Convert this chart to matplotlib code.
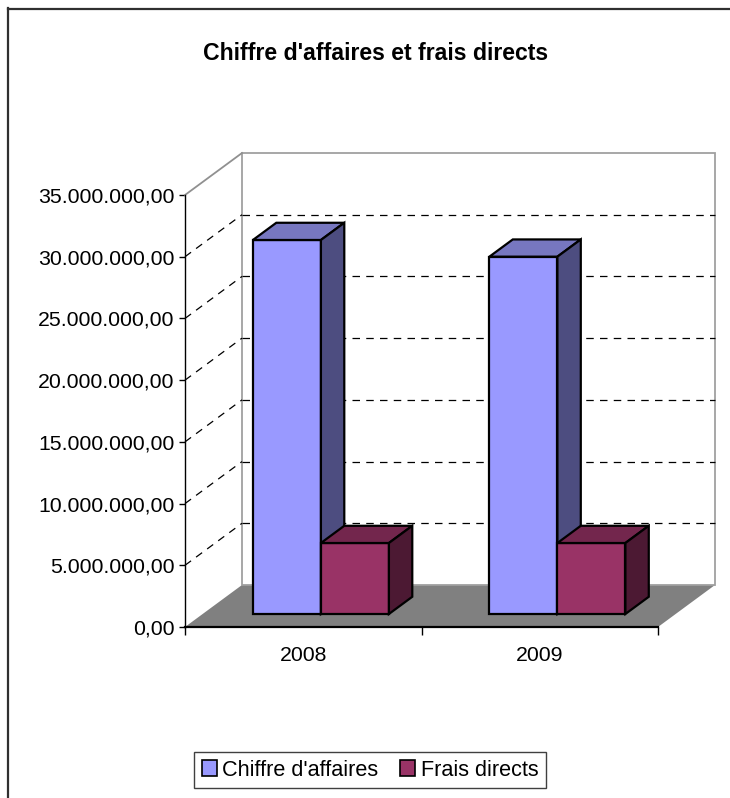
import matplotlib
matplotlib.use('Agg')
import matplotlib.pyplot as plt
from matplotlib.patches import Polygon, Patch
from matplotlib.lines import Line2D
from matplotlib.ticker import FuncFormatter, MultipleLocator

plt.rcParams['font.family'] = ['Liberation Sans', 'DejaVu Sans']

years = ['2008', '2009']
chiffre_affaires = [30300000, 28950000]
frais_directs = [5750000, 5750000]
series_names = ["Chiffre d'affaires", 'Frais directs']
title = "Chiffre d'affaires et frais directs"

# face colours: front, top, side
colours = [('#9999FF', '#7777C0', '#4D4D80'),
           ('#993366', '#73264D', '#4C1933')]

W, H = 730, 798
fig = plt.figure(figsize=(W / 100, H / 100), dpi=100)
fig.patch.set_facecolor('white')

# front plane of the 3d box, in pixels
x0, x1, ytop, ybot = 185, 658, 195, 627
ax = fig.add_axes([x0 / W, (H - ybot) / H, (x1 - x0) / W, (ybot - ytop) / H])
vmax = 35000000
ax.set_xlim(0, len(years))
ax.set_ylim(0, vmax)
ax.patch.set_alpha(0)

# depth offset of the box in pixels, turned into data units
depth_px = (57, 42)
DX = depth_px[0] / ((x1 - x0) / len(years))
DV = depth_px[1] / ((ybot - ytop) / vmax)


def proj(x, v, d):
    return (x + d * DX, v + d * DV)


def poly(pts, **kw):
    p = Polygon([proj(*q) for q in pts], closed=True, clip_on=False, **kw)
    ax.add_patch(p)
    return p


n = len(years)
# walls and floor
poly([(0, 0, 1), (n, 0, 1), (n, vmax, 1), (0, vmax, 1)], facecolor='white', edgecolor='none', zorder=1)
poly([(0, 0, 0), (0, 0, 1), (0, vmax, 1), (0, vmax, 0)], facecolor='white', edgecolor='none', zorder=1)
poly([(0, 0, 0), (n, 0, 0), (n, 0, 1), (0, 0, 1)], facecolor='#808080', edgecolor='none', zorder=2)
poly([(0, 0, 1), (n, 0, 1), (n, vmax, 1), (0, vmax, 1)], facecolor='none', edgecolor='#A0A0A0', lw=1.3, zorder=3)
xa, ya = zip(proj(0, vmax, 0), proj(0, vmax, 1))
ax.plot(xa, ya, color='#909090', lw=1.3, clip_on=False, zorder=3)

# dashed gridlines on back and side walls
for v in range(5000000, vmax, 5000000):
    xa, ya = zip(proj(0, v, 1), proj(n, v, 1))
    ax.plot(xa, ya, color='black', lw=0.9, ls=(0, (6, 5)), clip_on=False, zorder=3)
    xa, ya = zip(proj(0, v, 0), proj(0, v, 1))
    ax.plot(xa, ya, color='black', lw=0.9, ls=(0, (6, 5)), clip_on=False, zorder=3)

# 3d columns
group_w = 0.575
bar_w = group_w / 2
d0, d1 = 0.31, 0.72
z = 4
for i in range(n):
    for k, vals in enumerate([chiffre_affaires, frais_directs]):
        front, top, side = colours[k]
        bl = i + 0.5 - group_w / 2 + k * bar_w
        br = bl + bar_w
        v = vals[i]
        kw = dict(edgecolor='black', lw=1.6, joinstyle='miter', zorder=z)
        poly([(bl, 0, d0), (br, 0, d0), (br, v, d0), (bl, v, d0)], facecolor=front, **kw)
        poly([(bl, v, d0), (br, v, d0), (br, v, d1), (bl, v, d1)], facecolor=top, **kw)
        poly([(br, 0, d0), (br, 0, d1), (br, v, d1), (br, v, d0)], facecolor=side, **kw)
        z += 1

# axes
for s in ['top', 'right']:
    ax.spines[s].set_visible(False)
ax.spines['left'].set_color('black')
ax.spines['left'].set_linewidth(1.0)
ax.spines['bottom'].set_color('black')
ax.spines['bottom'].set_linewidth(1.6)
ax.spines['left'].set_zorder(20)
ax.spines['bottom'].set_zorder(20)

ax.yaxis.set_major_locator(MultipleLocator(5000000))
ax.yaxis.set_major_formatter(FuncFormatter(
    lambda v, _: f'{v:,.2f}'.replace(',', 'X').replace('.', ',').replace('X', '.')))
ax.tick_params(axis='y', direction='out', length=4.5, width=1, colors='black', pad=3, labelsize=15.3)

ax.set_xticks(range(n + 1))
ax.set_xticklabels([''] * (n + 1))
ax.set_xticks([i + 0.5 for i in range(n)], minor=True)
ax.set_xticklabels(years, minor=True)
ax.tick_params(axis='x', which='major', direction='out', length=6, width=1, colors='black')
ax.tick_params(axis='x', which='minor', length=0, pad=14, labelsize=15.3)

# title
fig.text(376 / W, (H - 53) / H, title, ha='center', va='center', fontsize=16.6, fontweight='bold')

# legend
handles = [Patch(facecolor=colours[k][0], edgecolor='black', lw=1.2) for k in range(2)]
leg = fig.legend(handles, series_names, loc='center', bbox_to_anchor=(370 / W, (H - 770) / H),
                 ncol=2, fontsize=15.6, frameon=True, fancybox=False, framealpha=1,
                 edgecolor='#404040', handlelength=0.7, handleheight=0.7,
                 handletextpad=0.25, columnspacing=1.0, borderpad=0.35, borderaxespad=0)
leg.get_frame().set_linewidth(1.0)

# chart area border
fig.add_artist(Line2D([7.5 / W, 7.5 / W], [0, (H - 8) / H], color='#303030', lw=1.6))
fig.add_artist(Line2D([7.5 / W, 1], [(H - 8.5) / H, (H - 8.5) / H], color='#303030', lw=1.6))

fig.savefig('out.png', dpi=100)
